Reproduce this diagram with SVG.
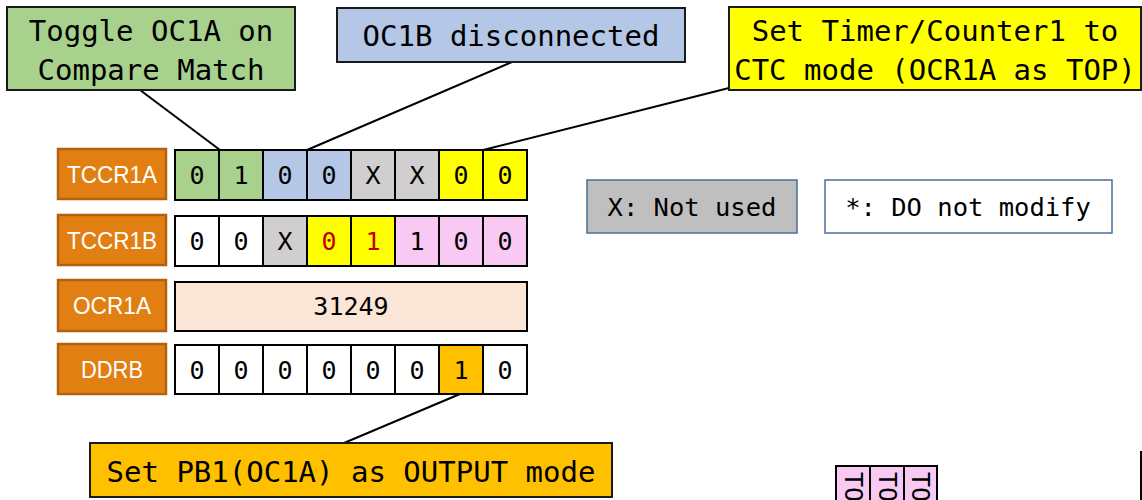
<svg xmlns="http://www.w3.org/2000/svg" width="1142" height="500" viewBox="0 0 1142 500">
<style>
.mono{font-family:"DejaVu Sans Mono","Liberation Mono",monospace;fill:#000}
.call{font-size:29px}
.cell{font-size:25px}
.leg{font-size:25.5px}
.box{stroke:#1a1a1a;stroke-width:2}
.reg{fill:#e27f12;stroke:#b0630c;stroke-width:2.5}
.regt{font-family:"Liberation Sans",Arial,sans-serif;font-size:24px;fill:#fff}
.c{stroke:#000;stroke-width:2}
.conn line{stroke:#000;stroke-width:2}
.lg{stroke:#4a6f9a;stroke-width:1.5}
</style>
<g id="connectors" class="conn">
<line x1="140" y1="90" x2="220" y2="150"/>
<line x1="512" y1="62" x2="307" y2="150"/>
<line x1="729" y1="88" x2="483" y2="150"/>
<line x1="460" y1="394" x2="344" y2="443"/>
</g>
<g id="note-toggle">
<rect x="7" y="7" width="288" height="83" fill="#a9d18e" class="box"/>
<text class="mono call" x="151" y="41" text-anchor="middle">Toggle OC1A on</text>
<text class="mono call" x="151" y="80" text-anchor="middle">Compare Match</text>
</g>
<g id="note-oc1b">
<rect x="337" y="8" width="348" height="54" fill="#b4c7e7" class="box"/>
<text class="mono call" x="511" y="46" text-anchor="middle">OC1B disconnected</text>
</g>
<g id="note-ctc">
<rect x="729" y="7" width="412" height="83" fill="#ffff00" class="box"/>
<text class="mono call" x="935" y="41" text-anchor="middle">Set Timer/Counter1 to</text>
<text class="mono call" x="935" y="80" text-anchor="middle">CTC mode (OCR1A as TOP)</text>
</g>
<g id="note-ddrb">
<rect x="90" y="443" width="522" height="54" fill="#ffc000" class="box"/>
<text class="mono call" x="351" y="482" text-anchor="middle">Set PB1(OC1A) as OUTPUT mode</text>
</g>
<g id="legend-x">
<rect x="587" y="180" width="210" height="53" fill="#bfbfbf" class="lg"/>
<text class="mono leg" x="692" y="216" text-anchor="middle">X: Not used</text>
</g>
<g id="legend-star">
<rect x="825" y="180" width="287" height="53" fill="#fff" class="lg"/>
<text class="mono leg" x="968" y="216" text-anchor="middle">*: DO not modify</text>
</g>
<g id="tccr1a">
<rect x="58" y="149" width="108" height="50" class="reg"/>
<text class="regt" x="112" y="183" text-anchor="middle" textLength="90" lengthAdjust="spacingAndGlyphs">TCCR1A</text>
<g class="c">
<rect x="175" y="150" width="44" height="50" fill="#a9d18e"/>
<rect x="219" y="150" width="44" height="50" fill="#a9d18e"/>
<rect x="263" y="150" width="44" height="50" fill="#b4c7e7"/>
<rect x="307" y="150" width="44" height="50" fill="#b4c7e7"/>
<rect x="351" y="150" width="44" height="50" fill="#d0cece"/>
<rect x="395" y="150" width="44" height="50" fill="#d0cece"/>
<rect x="439" y="150" width="44" height="50" fill="#ffff00"/>
<rect x="483" y="150" width="44" height="50" fill="#ffff00"/>
</g>
<g class="mono cell" text-anchor="middle">
<text x="197" y="184">0</text><text x="241" y="184">1</text><text x="285" y="184">0</text><text x="329" y="184">0</text>
<text x="373" y="184">X</text><text x="417" y="184">X</text><text x="461" y="184">0</text><text x="505" y="184">0</text>
</g>
</g>
<g id="tccr1b">
<rect x="58" y="215" width="108" height="50" class="reg"/>
<text class="regt" x="112" y="249" text-anchor="middle" textLength="90" lengthAdjust="spacingAndGlyphs">TCCR1B</text>
<g class="c">
<rect x="175" y="216" width="44" height="50" fill="#fff"/>
<rect x="219" y="216" width="44" height="50" fill="#fff"/>
<rect x="263" y="216" width="44" height="50" fill="#d0cece"/>
<rect x="307" y="216" width="44" height="50" fill="#ffff00"/>
<rect x="351" y="216" width="44" height="50" fill="#ffff00"/>
<rect x="395" y="216" width="44" height="50" fill="#f7c9f3"/>
<rect x="439" y="216" width="44" height="50" fill="#f7c9f3"/>
<rect x="483" y="216" width="44" height="50" fill="#f7c9f3"/>
</g>
<g class="mono cell" text-anchor="middle">
<text x="197" y="250">0</text><text x="241" y="250">0</text><text x="285" y="250">X</text>
<text x="329" y="250" style="fill:#c00000">0</text><text x="373" y="250" style="fill:#c00000">1</text>
<text x="417" y="250">1</text><text x="461" y="250">0</text><text x="505" y="250">0</text>
</g>
</g>
<g id="ocr1a">
<rect x="58" y="280" width="108" height="51" class="reg"/>
<text class="regt" x="112" y="314" text-anchor="middle" textLength="78" lengthAdjust="spacingAndGlyphs">OCR1A</text>
<rect x="175" y="282" width="352" height="49" fill="#fbe5d6" class="c"/>
<text class="mono cell" x="351" y="315" text-anchor="middle">31249</text>
</g>
<g id="ddrb">
<rect x="58" y="344" width="108" height="50" class="reg"/>
<text class="regt" x="112" y="378" text-anchor="middle" textLength="62" lengthAdjust="spacingAndGlyphs">DDRB</text>
<g class="c">
<rect x="175" y="345" width="44" height="49" fill="#fff"/>
<rect x="219" y="345" width="44" height="49" fill="#fff"/>
<rect x="263" y="345" width="44" height="49" fill="#fff"/>
<rect x="307" y="345" width="44" height="49" fill="#fff"/>
<rect x="351" y="345" width="44" height="49" fill="#fff"/>
<rect x="395" y="345" width="44" height="49" fill="#fff"/>
<rect x="439" y="345" width="44" height="49" fill="#ffc000"/>
<rect x="483" y="345" width="44" height="49" fill="#fff"/>
</g>
<g class="mono cell" text-anchor="middle">
<text x="197" y="379">0</text><text x="241" y="379">0</text><text x="285" y="379">0</text><text x="329" y="379">0</text>
<text x="373" y="379">0</text><text x="417" y="379">0</text><text x="461" y="379">1</text><text x="505" y="379">0</text>
</g>
</g>
<g id="partial-cells">
<g class="c">
<rect x="836" y="466" width="34" height="40" fill="#f7c9f3"/>
<rect x="870" y="466" width="34" height="40" fill="#f7c9f3"/>
<rect x="904" y="466" width="33" height="40" fill="#f7c9f3"/>
</g>
<g class="mono cell">
<text transform="translate(845 472) rotate(90)">TO</text>
<text transform="translate(879 472) rotate(90)">TO</text>
<text transform="translate(912 472) rotate(90)">TO</text>
</g>
</g>
<g id="edge-box">
<line x1="1141" y1="451" x2="1141" y2="500" stroke="#000" stroke-width="2"/>
</g>
</svg>
